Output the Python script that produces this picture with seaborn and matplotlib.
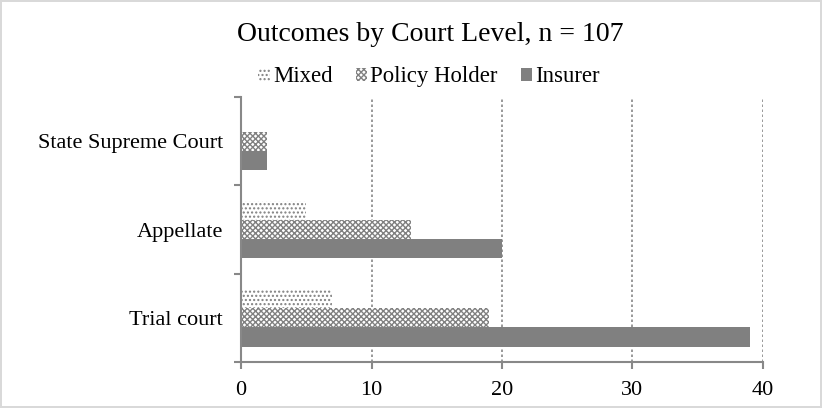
import pandas as pd
import matplotlib.pyplot as plt
import seaborn as sns
import numpy as np
from matplotlib.patches import Patch

# data
courts = ["State Supreme Court", "Appellate", "Trial court"]
outcomes = ["Mixed", "Policy Holder", "Insurer"]
mixed = [0, 5, 7]
policy_holder = [2, 13, 19]
insurer = [2, 20, 39]

df = pd.DataFrame({
    "Court": courts * 3,
    "Outcome": np.repeat(outcomes, 3),
    "Count": mixed + policy_holder + insurer,
})

sns.set_theme(style="white")
plt.rcParams["font.family"] = ["Liberation Serif", "DejaVu Serif"]
plt.rcParams["hatch.linewidth"] = 1.0
plt.rcParams["text.color"] = "black"

fig = plt.figure(figsize=(8.22, 4.08), dpi=100)
fig.patch.set_edgecolor("#d9d9d9")
fig.patch.set_linewidth(1.5)
ax = fig.add_axes([0.2932, 0.1127, 0.635, 0.6496])

sns.barplot(data=df, x="Count", y="Court", hue="Outcome", order=courts,
            hue_order=outcomes, orient="h", width=0.65, ax=ax,
            palette=["white", "white", "#808080"], saturation=1,
            linewidth=0, errorbar=None, legend=False)

# patterns like the Excel fills
hatches = ["....", "xxxxxx", ""]
fills = ["white", "white", "#808080"]
for cont, h in zip(ax.containers, hatches):
    for bar in cont:
        bar.set_hatch(h)
        bar.set_edgecolor("#808080")
        bar.set_linewidth(0)

ax.set_xlim(0, 40)
ax.set_xticks([0, 10, 20, 30, 40])
ax.set_ylim(2.5, -0.5)
ax.set_yticks([-0.5, 0.5, 1.5, 2.5], minor=True)
ax.tick_params(axis="y", which="major", length=0, labelsize=16, pad=13, labelcolor="black")
ax.tick_params(axis="y", which="minor", length=5, color="#888888", width=1.5, direction="out", left=True)
ax.tick_params(axis="x", length=5, color="#888888", width=1.5, direction="out", bottom=True,
               labelsize=16, pad=9, labelcolor="black")

ax.xaxis.grid(True, linestyle=(0, (1.5, 1.5)), color="#888888", linewidth=1.2)
ax.set_axisbelow(True)
for s in ["top", "right"]:
    ax.spines[s].set_visible(False)
for s in ["left", "bottom"]:
    ax.spines[s].set_color("#888888")
    ax.spines[s].set_linewidth(1.5)
ax.set_xlabel("")
ax.set_ylabel("")

handles = [Patch(facecolor=f, edgecolor="#808080", hatch=h, linewidth=0, label=o)
           for f, h, o in zip(fills, hatches, outcomes)]
fig.legend(handles=handles, loc="center", bbox_to_anchor=(0.522, 0.812), ncol=3, frameon=False,
           fontsize=16.4, handlelength=0.5, handleheight=0.5, handletextpad=0.15,
           columnspacing=1.0)
fig.suptitle("Outcomes by Court Level, n = 107", x=0.523, y=0.945, fontsize=20, color="black")

fig.savefig("out.png", dpi=100)
